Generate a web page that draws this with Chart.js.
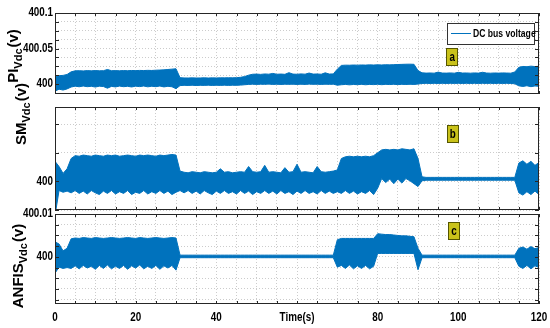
<!DOCTYPE html>
<html>
<head>
<meta charset="utf-8">
<script src="https://cdn.jsdelivr.net/npm/chart.js@4"></script>
<style>
  html, body { margin: 0; padding: 0; background: #fff; }
  #wrap { position: relative; width: 550px; height: 328px; }
  #wrap canvas { position: absolute; left: 0; top: 0; }
</style>
</head>
<body>
<div id="wrap">
  <canvas id="panelA" width="550" height="328"></canvas>
  <canvas id="panelB" width="550" height="328"></canvas>
  <canvas id="panelC" width="550" height="328"></canvas>
</div>
<script>
// time axis (s)
const time = [
  0,1,2,3,4,5,6,7,8,9,10,11,12,13,14,15,16,17,18,19,20,21,22,23,24,25,26,27,28,29,
  30,31,32,33,34,35,36,37,38,39,40,41,42,43,44,45,46,47,48,49,50,51,52,53,54,55,56,57,58,59,
  60,61,62,63,64,65,66,67,68,69,70,71,72,73,74,75,76,77,78,79,80,81,82,83,84,85,86,87,88,89,
  90,91,92,93,94,95,96,97,98,99,100,101,102,103,104,105,106,107,108,109,110,111,112,113,114,115,116,117,118,119,120
];

// PI controller: upper / lower envelope of the ripple band (V)
const piUpper = [
  400.0110,400.0118,400.0122,400.0135,400.0172,400.0186,400.0188,400.0185,400.0189,400.0186,
  400.0190,400.0187,400.0188,400.0205,400.0188,400.0189,400.0187,400.0190,400.0188,400.0191,
  400.0189,400.0192,400.0190,400.0193,400.0191,400.0195,400.0197,400.0200,400.0205,400.0210,
  400.0215,400.0090,400.0086,400.0085,400.0087,400.0085,400.0086,400.0088,400.0085,400.0087,
  400.0086,400.0088,400.0087,400.0089,400.0088,400.0090,400.0095,400.0105,400.0125,400.0138,
  400.0140,400.0136,400.0142,400.0139,400.0150,400.0138,400.0141,400.0137,400.0160,400.0140,
  400.0138,400.0143,400.0139,400.0155,400.0140,400.0142,400.0138,400.0158,400.0141,400.0143,
  400.0210,400.0262,400.0266,400.0265,400.0268,400.0266,400.0269,400.0267,400.0270,400.0268,
  400.0271,400.0269,400.0272,400.0270,400.0273,400.0275,400.0277,400.0279,400.0280,400.0278,
  400.0190,400.0158,400.0154,400.0156,400.0153,400.0168,400.0155,400.0154,400.0157,400.0153,
  400.0165,400.0155,400.0156,400.0153,400.0157,400.0154,400.0166,400.0155,400.0153,400.0156,
  400.0154,400.0157,400.0155,400.0153,400.0170,400.0235,400.0248,400.0244,400.0252,400.0246,
  400.0250
];
const piLower = [
  399.9900,399.9928,399.9915,399.9932,399.9958,399.9970,399.9962,399.9972,399.9963,399.9968,
  399.9958,399.9970,399.9965,399.9942,399.9967,399.9960,399.9971,399.9963,399.9968,399.9959,
  399.9970,399.9964,399.9972,399.9961,399.9969,399.9963,399.9972,399.9960,399.9968,399.9962,
  399.9935,399.9978,399.9982,399.9980,399.9983,399.9979,399.9982,399.9981,399.9984,399.9980,
  399.9983,399.9981,399.9984,399.9981,399.9983,399.9982,399.9985,399.9990,399.9995,399.9998,
  399.9995,399.9998,399.9996,399.9999,399.9995,399.9998,399.9994,399.9998,399.9996,399.9998,
  399.9995,399.9998,399.9995,399.9999,399.9996,399.9998,399.9995,399.9998,399.9996,399.9998,
  399.9984,399.9990,399.9995,399.9989,399.9994,399.9991,399.9996,399.9990,399.9995,399.9992,
  399.9997,399.9991,399.9996,399.9993,399.9997,399.9992,399.9996,399.9994,399.9997,399.9995,
  400.0000,400.0008,400.0010,400.0008,400.0010,400.0008,400.0010,400.0008,400.0010,400.0009,
  400.0010,400.0008,400.0010,400.0008,400.0010,400.0008,400.0010,400.0009,400.0010,400.0008,
  400.0010,400.0008,400.0010,400.0008,400.0004,399.9975,399.9966,399.9976,399.9963,399.9973,
  399.9968
];

// sliding mode controller
const smUpper = [
  400.0035,400.0026,400.0014,400.0022,400.0040,400.0045,400.0044,400.0046,400.0045,400.0044,
  400.0046,400.0045,400.0044,400.0046,400.0045,400.0046,400.0044,400.0045,400.0046,400.0045,
  400.0044,400.0046,400.0045,400.0046,400.0045,400.0044,400.0046,400.0045,400.0046,400.0047,
  400.0046,400.0018,400.0016,400.0015,400.0017,400.0016,400.0015,400.0017,400.0016,400.0015,
  400.0016,400.0022,400.0016,400.0017,400.0015,400.0016,400.0017,400.0016,400.0026,400.0017,
  400.0016,400.0017,400.0028,400.0016,400.0017,400.0016,400.0015,400.0024,400.0016,400.0017,
  400.0030,400.0016,400.0017,400.0016,400.0015,400.0026,400.0017,400.0016,400.0017,400.0018,
  400.0020,400.0040,400.0043,400.0044,400.0043,400.0044,400.0043,400.0044,400.0043,400.0045,
  400.0050,400.0055,400.0056,400.0055,400.0056,400.0055,400.0057,400.0056,400.0055,400.0057,
  400.0040,400.0008,400.0007,400.0007,400.0007,400.0007,400.0007,400.0007,400.0007,400.0007,
  400.0007,400.0007,400.0007,400.0007,400.0007,400.0007,400.0007,400.0007,400.0007,400.0007,
  400.0007,400.0007,400.0007,400.0007,400.0007,400.0032,400.0036,400.0030,400.0035,400.0028,
  400.0033
];
const smLower = [
  399.9940,399.9984,399.9981,399.9983,399.9980,399.9984,399.9979,399.9983,399.9978,399.9984,
  399.9980,399.9977,399.9983,399.9979,399.9984,399.9978,399.9982,399.9979,399.9984,399.9977,
  399.9981,399.9979,399.9984,399.9978,399.9982,399.9979,399.9984,399.9979,399.9983,399.9977,
  399.9981,399.9984,399.9980,399.9984,399.9979,399.9983,399.9978,399.9984,399.9980,399.9977,
  399.9983,399.9979,399.9984,399.9979,399.9982,399.9978,399.9984,399.9979,399.9983,399.9977,
  399.9982,399.9979,399.9984,399.9979,399.9983,399.9978,399.9984,399.9979,399.9982,399.9977,
  399.9983,399.9979,399.9984,399.9979,399.9982,399.9978,399.9984,399.9979,399.9983,399.9979,
  399.9982,399.9979,399.9984,399.9979,399.9983,399.9978,399.9982,399.9979,399.9984,399.9977,
  399.9988,400.0005,399.9998,400.0004,399.9996,400.0004,399.9997,400.0005,400.0001,399.9996,
  399.9991,400.0001,400.0002,400.0002,400.0002,400.0002,400.0002,400.0002,400.0002,400.0002,
  400.0002,400.0002,400.0002,400.0002,400.0002,400.0002,400.0002,400.0002,400.0002,400.0002,
  400.0002,400.0002,400.0002,400.0002,400.0002,399.9980,399.9976,399.9982,399.9977,399.9983,
  399.9977
];

// ANFIS controller
const anfisUpper = [
  400.0035,400.0030,400.0014,400.0020,400.0042,400.0044,400.0043,400.0045,400.0044,400.0043,
  400.0045,400.0044,400.0043,400.0044,400.0045,400.0044,400.0043,400.0044,400.0045,400.0044,
  400.0043,400.0045,400.0044,400.0043,400.0044,400.0045,400.0044,400.0043,400.0044,400.0045,
  400.0044,400.0004,400.0004,400.0004,400.0004,400.0004,400.0004,400.0004,400.0004,400.0004,
  400.0004,400.0004,400.0004,400.0004,400.0004,400.0004,400.0004,400.0004,400.0004,400.0004,
  400.0004,400.0004,400.0004,400.0004,400.0004,400.0004,400.0004,400.0004,400.0004,400.0004,
  400.0004,400.0004,400.0004,400.0004,400.0004,400.0004,400.0004,400.0004,400.0004,400.0004,
  400.0040,400.0043,400.0043,400.0043,400.0043,400.0043,400.0043,400.0043,400.0043,400.0043,
  400.0054,400.0053,400.0052,400.0052,400.0051,400.0050,400.0049,400.0049,400.0048,400.0047,
  400.0020,400.0004,400.0004,400.0004,400.0004,400.0004,400.0004,400.0004,400.0004,400.0004,
  400.0004,400.0004,400.0004,400.0004,400.0004,400.0004,400.0004,400.0004,400.0004,400.0004,
  400.0004,400.0004,400.0004,400.0004,400.0004,400.0020,400.0023,400.0018,400.0024,400.0019,
  400.0022
];
const anfisLower = [
  399.9962,399.9976,399.9973,399.9975,399.9973,399.9979,399.9972,399.9980,399.9974,399.9978,
  399.9971,399.9980,399.9973,399.9981,399.9972,399.9978,399.9973,399.9980,399.9971,399.9979,
  399.9974,399.9981,399.9972,399.9978,399.9973,399.9980,399.9971,399.9979,399.9974,399.9980,
  399.9969,399.9998,399.9998,399.9998,399.9998,399.9998,399.9998,399.9998,399.9998,399.9998,
  399.9998,399.9998,399.9998,399.9998,399.9998,399.9998,399.9998,399.9998,399.9998,399.9998,
  399.9998,399.9998,399.9998,399.9998,399.9998,399.9998,399.9998,399.9998,399.9998,399.9998,
  399.9998,399.9998,399.9998,399.9998,399.9998,399.9998,399.9998,399.9998,399.9998,399.9998,
  399.9976,399.9980,399.9973,399.9981,399.9972,399.9979,399.9973,399.9980,399.9972,399.9978,
  400.0008,400.0008,400.0008,400.0008,400.0008,400.0008,400.0008,400.0008,400.0008,400.0008,
  399.9970,399.9998,399.9998,399.9998,399.9998,399.9998,399.9998,399.9998,399.9998,399.9998,
  399.9998,399.9998,399.9998,399.9998,399.9998,399.9998,399.9998,399.9998,399.9998,399.9998,
  399.9998,399.9998,399.9998,399.9998,399.9998,399.9978,399.9973,399.9980,399.9972,399.9979,
  399.9975
];

// y ticks per panel ('' = grid line only)
const piTicks = [400, 400.0125, 400.025, 400.0375, 400.05, 400.0625, 400.075, 400.0875, 400.1];
const piTickLabels = ['400', '', '', '', '400.05', '', '', '', '400.1'];
const smTicks = [399.995, 400, 400.005, 400.01];
const smTickLabels = ['', '400', '', ''];
const anfisTicks = [399.99, 399.9925, 399.995, 399.9975, 400, 400.0025, 400.005, 400.0075, 400.01];
const anfisTickLabels = ['', '', '', '', '400', '', '', '', '400.01'];
// x labels every 20 s, the 60 s slot carries the axis name
const xLabelValues = [0, 20, 40, 60, 80, 100, 120];
const xLabels = ['0', '20', '40', 'Time(s)', '80', '100', '120'];

const BLUE = '#0072BD';
const GRID = '#cccccc';
const FONT = "'Liberation Sans', Arial, sans-serif";
const SQUEEZE = 0.82;   // narrow look of the matlab export font

function narrowText(ctx, text, x, y, align) {
  ctx.save();
  ctx.translate(x, y);
  ctx.scale(SQUEEZE, 1);
  ctx.textAlign = align;
  ctx.fillText(text, 0, 0);
  ctx.restore();
}

// box with inward tick marks and the tick labels
const framePlugin = {
  id: 'frame',
  afterDraw(chart, args, opts) {
    const { ctx, chartArea: a, scales } = chart;
    ctx.save();
    ctx.strokeStyle = '#262626';
    ctx.lineWidth = 1;
    ctx.strokeRect(Math.round(a.left) + 0.5, Math.round(a.top) + 0.5,
      Math.round(a.right - a.left) - 1, Math.round(a.bottom - a.top) - 1);
    ctx.beginPath();
    scales.x.ticks.forEach(t => {
      const px = Math.round(scales.x.getPixelForValue(t.value)) + 0.5;
      ctx.moveTo(px, a.top); ctx.lineTo(px, a.top + 3);
      ctx.moveTo(px, a.bottom); ctx.lineTo(px, a.bottom - 3);
    });
    scales.y.ticks.forEach(t => {
      const py = Math.round(scales.y.getPixelForValue(t.value)) + 0.5;
      ctx.moveTo(a.left, py); ctx.lineTo(a.left + 4, py);
      ctx.moveTo(a.right, py); ctx.lineTo(a.right - 4, py);
    });
    ctx.stroke();

    ctx.fillStyle = '#000';
    ctx.font = 'bold 12px ' + FONT;
    ctx.textBaseline = 'middle';
    opts.yTicks.forEach((v, i) => {
      if (opts.yLabels[i]) narrowText(ctx, opts.yLabels[i], a.left - 2, scales.y.getPixelForValue(v), 'right');
    });
    if (opts.showX) {
      xLabelValues.forEach((v, i) => {
        narrowText(ctx, xLabels[i], scales.x.getPixelForValue(v), a.bottom + 14, 'center');
      });
    }
    ctx.restore();
  }
};

// rotated y title with subscript, plus the yellow panel tag and legend
const decorPlugin = {
  id: 'decor',
  afterDraw(chart, args, opts) {
    const { ctx, chartArea: a, scales } = chart;
    ctx.save();
    const mainFont = 'bold 15px ' + FONT;
    const subFont = 'bold 11px ' + FONT;
    ctx.font = mainFont;
    const w1 = ctx.measureText(opts.title).width;
    const w3 = ctx.measureText('(v)').width;
    ctx.font = subFont;
    const w2 = ctx.measureText('Vdc').width;
    const total = w1 + w2 + 1 + w3;
    ctx.translate(opts.titleX, opts.titleY + total / 2);
    ctx.rotate(-Math.PI / 2);
    ctx.fillStyle = '#000';
    ctx.textBaseline = 'alphabetic';
    ctx.textAlign = 'left';
    ctx.font = mainFont;
    ctx.fillText(opts.title, 0, 0);
    ctx.font = subFont;
    ctx.fillText('Vdc', w1, 4);
    ctx.font = mainFont;
    ctx.fillText('(v)', w1 + w2 + 1, 0);
    ctx.restore();

    // panel tag
    ctx.save();
    const cx = scales.x.getPixelForValue(opts.tagX);
    const cy = scales.y.getPixelForValue(opts.tagY);
    ctx.fillStyle = '#c9c21a';
    ctx.strokeStyle = '#555500';
    ctx.lineWidth = 1;
    ctx.fillRect(Math.round(cx - 6), Math.round(cy - 9), 12, 18);
    ctx.strokeRect(Math.round(cx - 6) + 0.5, Math.round(cy - 9) + 0.5, 11, 17);
    ctx.fillStyle = '#000';
    ctx.font = 'bold 12px ' + FONT;
    ctx.textBaseline = 'middle';
    narrowText(ctx, opts.tag, cx, cy + 1, 'center');
    ctx.restore();

    // legend
    if (opts.legend) {
      ctx.save();
      const bx = Math.round(a.right) - 92, by = Math.round(a.top) + 10;
      ctx.fillStyle = '#fff';
      ctx.fillRect(bx, by, 88, 22);
      ctx.strokeStyle = '#333';
      ctx.strokeRect(bx + 0.5, by + 0.5, 87, 21);
      ctx.strokeStyle = BLUE;
      ctx.beginPath();
      ctx.moveTo(bx + 4, by + 10.5); ctx.lineTo(bx + 24, by + 10.5);
      ctx.stroke();
      ctx.fillStyle = '#000';
      ctx.font = 'bold 10.5px ' + FONT;
      ctx.textBaseline = 'middle';
      narrowText(ctx, opts.legend, bx + 26, by + 11, 'left');
      ctx.restore();
    }
  }
};

function makePanel(id, upper, lower, y, decor, showX) {
  return new Chart(document.getElementById(id), {
    type: 'line',
    data: {
      datasets: [
        { data: time.map((t, i) => ({ x: t, y: upper[i] })), borderColor: BLUE, backgroundColor: BLUE,
          borderWidth: 1, pointRadius: 0, tension: 0, fill: '+1' },
        { data: time.map((t, i) => ({ x: t, y: lower[i] })), borderColor: BLUE,
          borderWidth: 1, pointRadius: 0, tension: 0, fill: false }
      ]
    },
    options: {
      responsive: false,
      animation: false,
      devicePixelRatio: 1,
      events: [],
      layout: { padding: { top: y.top, bottom: y.bottom, left: 0, right: 11 } },
      plugins: {
        legend: { display: false },
        tooltip: { enabled: false },
        decor: decor,
        frame: { yTicks: y.ticks, yLabels: y.labels, showX: showX }
      },
      scales: {
        x: {
          type: 'linear', min: 0, max: 120,
          ticks: { stepSize: 5, autoSkip: false, maxRotation: 0, display: false },
          grid: { color: GRID, drawTicks: false },
          border: { display: false, dash: [1, 2] },
          afterFit: s => { s.height = showX ? 24 : 0; }
        },
        y: {
          min: y.min, max: y.max,
          afterBuildTicks: s => { s.ticks = y.ticks.map(v => ({ value: v })); },
          ticks: { display: false },
          grid: { color: GRID, drawTicks: false },
          border: { display: false, dash: [1, 2] },
          afterFit: s => { s.width = 55; }
        }
      }
    },
    plugins: [framePlugin, decorPlugin]
  });
}

makePanel('panelA', piUpper, piLower,
  { min: 399.986, max: 400.1, ticks: piTicks, labels: piTickLabels, top: 13, bottom: 234 },
  { title: 'PI', titleX: 18, titleY: 56, tag: 'a', tagX: 98.5, tagY: 400.038, legend: 'DC bus voltage' }, false);

makePanel('panelB', smUpper, smLower,
  { min: 399.995, max: 400.013, ticks: smTicks, labels: smTickLabels, top: 107, bottom: 118 },
  { title: 'SM', titleX: 26, titleY: 114, tag: 'b', tagX: 98.6, tagY: 400.0083 }, false);

makePanel('panelC', anfisUpper, anfisLower,
  { min: 399.989, max: 400.01, ticks: anfisTicks, labels: anfisTickLabels, top: 214, bottom: 0 },
  { title: 'ANFIS', titleX: 23, titleY: 266, tag: 'c', tagX: 98.9, tagY: 400.006 }, true);
</script>
</body>
</html>
